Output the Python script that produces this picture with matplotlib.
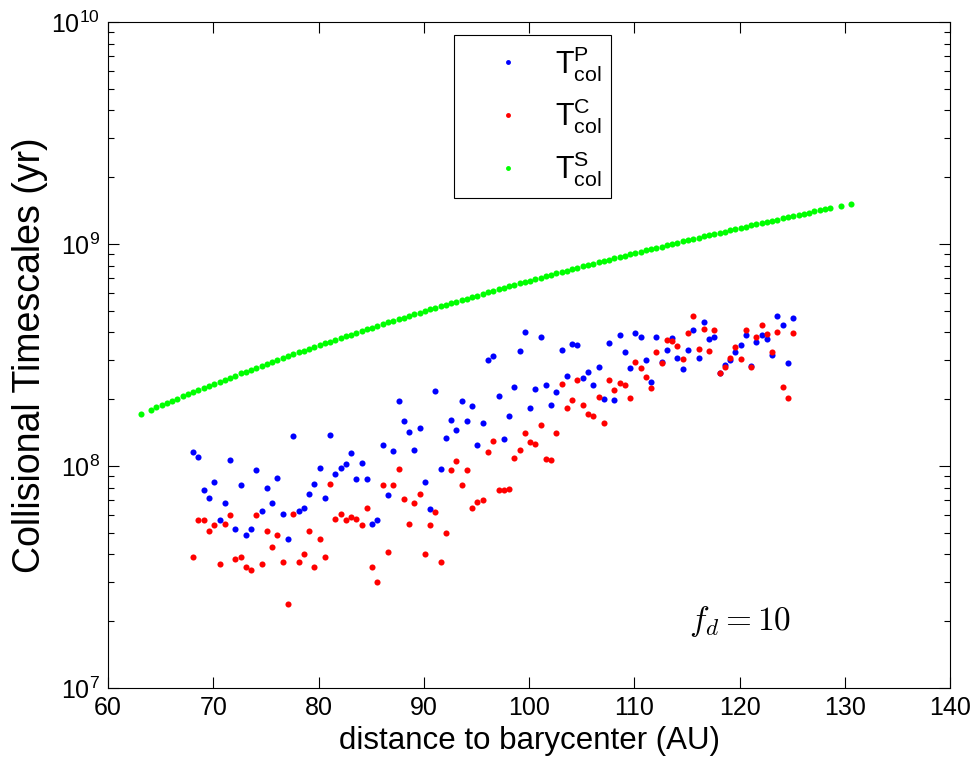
import numpy as np
import matplotlib
matplotlib.use('Agg')
import matplotlib.pyplot as plt

plt.rcParams['font.family'] = ['Liberation Sans', 'DejaVu Sans']
plt.rcParams['mathtext.fontset'] = 'custom'
plt.rcParams['mathtext.rm'] = 'Liberation Sans'
plt.rcParams['mathtext.it'] = 'Liberation Sans:italic'

# distance to barycenter (AU), shared by the P and C points
r_pc = [68.1, 68.6, 69.1, 69.6, 70.1, 70.6, 71.1, 71.6, 72.1, 72.6,
        73.1, 73.6, 74.1, 74.6, 75.1, 75.6, 76.1, 76.6, 77.1, 77.6,
        78.1, 78.6, 79.1, 79.6, 80.1, 80.6, 81.1, 81.6, 82.1, 82.6,
        83.1, 83.6, 84.1, 84.6, 85.1, 85.6, 86.1, 86.6, 87.1, 87.6,
        88.1, 88.6, 89.1, 89.6, 90.1, 90.6, 91.1, 91.6, 92.1, 92.6,
        93.1, 93.6, 94.1, 94.6, 95.1, 95.6, 96.1, 96.6, 97.1, 97.6,
        98.1, 98.6, 99.1, 99.6, 100.1, 100.6, 101.1, 101.6, 102.1, 102.6,
        103.1, 103.6, 104.1, 104.6, 105.1, 105.6, 106.1, 106.6, 107.1, 107.6,
        108.1, 108.6, 109.1, 109.6, 110.1, 110.6, 111.1, 111.6, 112.1, 112.6,
        113.1, 113.6, 114.1, 114.6, 115.1, 115.6, 116.1, 116.6, 117.1, 117.6,
        118.1, 118.6, 119.1, 119.6, 120.1, 120.6, 121.1, 121.6, 122.1, 122.6,
        123.1, 123.6, 124.1, 124.6, 125.1]

# T_col^P in units of 1e8 yr
t_p = [1.16, 1.10, 0.78, 0.72, 0.85, 0.57, 0.68, 1.06, 0.52, 0.82,
       0.49, 0.52, 0.96, 0.63, 0.80, 0.68, 0.88, 0.61, 0.47, 1.36,
       0.63, 0.65, 0.75, 0.83, 0.98, 0.72, 1.38, 0.92, 0.98, 1.02,
       1.14, 0.87, 1.03, 0.87, 0.55, 0.57, 1.24, 0.74, 1.17, 1.96,
       1.59, 1.42, 1.18, 1.49, 0.85, 0.64, 2.17, 0.97, 1.33, 1.61,
       1.46, 1.96, 1.60, 1.86, 1.24, 1.56, 3.00, 3.13, 2.07, 1.32,
       1.68, 2.27, 3.30, 4.01, 1.83, 2.22, 3.81, 2.32, 1.89, 2.15,
       3.33, 2.54, 3.56, 3.52, 2.50, 2.66, 2.32, 2.79, 2.00, 3.59,
       1.98, 3.90, 3.25, 2.76, 3.99, 3.81, 3.01, 2.38, 3.81, 2.93,
       3.34, 3.78, 3.07, 2.74, 3.34, 4.09, 3.07, 4.47, 3.73, 3.81,
       2.61, 2.84, 3.00, 3.26, 3.52, 3.88, 2.83, 3.63, 3.88, 3.73,
       3.16, 4.75, 4.32, 2.92, 4.64]

# T_col^C in units of 1e8 yr
t_c = [0.39, 0.57, 0.57, 0.51, 0.54, 0.36, 0.55, 0.60, 0.38, 0.39,
       0.35, 0.34, 0.60, 0.36, 0.51, 0.43, 0.49, 0.37, 0.24, 0.61,
       0.37, 0.40, 0.51, 0.35, 0.47, 0.39, 0.83, 0.58, 0.61, 0.57,
       0.59, 0.58, 0.54, 0.65, 0.35, 0.30, 0.82, 0.41, 0.82, 0.97,
       0.71, 0.55, 0.68, 0.75, 0.40, 0.54, 0.62, 0.37, 0.50, 0.96,
       1.05, 0.82, 0.96, 0.65, 0.69, 0.70, 1.16, 1.29, 0.78, 0.78,
       0.79, 1.09, 1.18, 1.41, 1.28, 1.25, 1.53, 1.08, 1.06, 1.41,
       2.33, 1.83, 1.99, 2.45, 1.88, 1.72, 1.68, 2.05, 1.57, 2.43,
       2.19, 2.37, 2.32, 2.02, 2.95, 2.76, 2.51, 2.25, 3.25, 2.91,
       3.71, 3.67, 3.48, 3.03, 3.96, 4.72, 3.38, 4.14, 3.31, 4.09,
       2.61, 2.78, 3.07, 3.45, 3.03, 4.10, 2.79, 3.80, 4.32, 3.93,
       3.27, 4.03, 2.28, 2.02, 3.99]

# distance grid for T_col^S
r_s = [63.1, 64.1, 64.6, 65.1, 65.6, 66.1, 66.6, 67.1, 67.6, 68.1, 68.6,
       69.1, 69.6, 70.1, 70.6, 71.1, 71.6, 72.1, 72.6, 73.1, 73.6,
       74.1, 74.6, 75.1, 75.6, 76.1, 76.6, 77.1, 77.6, 78.1, 78.6,
       79.1, 79.6, 80.1, 80.6, 81.1, 81.6, 82.1, 82.6, 83.1, 83.6,
       84.1, 84.6, 85.1, 85.6, 86.1, 86.6, 87.1, 87.6, 88.1, 88.6,
       89.1, 89.6, 90.1, 90.6, 91.1, 91.6, 92.1, 92.6, 93.1, 93.6,
       94.1, 94.6, 95.1, 95.6, 96.1, 96.6, 97.1, 97.6, 98.1, 98.6,
       99.1, 99.6, 100.1, 100.6, 101.1, 101.6, 102.1, 102.6, 103.1, 103.6,
       104.1, 104.6, 105.1, 105.6, 106.1, 106.6, 107.1, 107.6, 108.1, 108.6,
       109.1, 109.6, 110.1, 110.6, 111.1, 111.6, 112.1, 112.6, 113.1, 113.6,
       114.1, 114.6, 115.1, 115.6, 116.1, 116.6, 117.1, 117.6, 118.1, 118.6,
       119.1, 119.6, 120.1, 120.6, 121.1, 121.6, 122.1, 122.6, 123.1, 123.6,
       124.1, 124.6, 125.1, 125.6, 126.1, 126.6, 127.1, 127.6, 128.1, 128.6,
       129.6, 130.6]

# T_col^S in units of 1e8 yr
t_s = [1.71, 1.79, 1.84, 1.88, 1.92, 1.97, 2.01, 2.06, 2.10, 2.15, 2.20,
       2.25, 2.30, 2.35, 2.40, 2.45, 2.50, 2.55, 2.61, 2.66, 2.72,
       2.77, 2.83, 2.89, 2.94, 3.00, 3.06, 3.12, 3.18, 3.25, 3.31,
       3.37, 3.44, 3.50, 3.57, 3.63, 3.70, 3.77, 3.84, 3.91, 3.98,
       4.05, 4.13, 4.20, 4.28, 4.35, 4.43, 4.50, 4.58, 4.66, 4.74,
       4.82, 4.90, 4.99, 5.07, 5.15, 5.24, 5.33, 5.41, 5.50, 5.59,
       5.68, 5.77, 5.86, 5.96, 6.05, 6.15, 6.24, 6.34, 6.44, 6.54,
       6.64, 6.74, 6.84, 6.94, 7.05, 7.15, 7.26, 7.37, 7.47, 7.58,
       7.69, 7.81, 7.92, 8.03, 8.15, 8.26, 8.38, 8.50, 8.62, 8.74,
       8.86, 8.98, 9.10, 9.23, 9.35, 9.48, 9.61, 9.74, 9.87, 10.00,
       10.13, 10.27, 10.40, 10.54, 10.68, 10.81, 10.95, 11.10, 11.24, 11.38,
       11.52, 11.67, 11.82, 11.97, 12.12, 12.27, 12.42, 12.57, 12.73, 12.88,
       13.04, 13.20, 13.36, 13.52, 13.68, 13.84, 14.01, 14.18, 14.34, 14.51,
       14.85, 15.20]

fig = plt.figure(figsize=(9.77, 7.64), dpi=100)
ax = fig.add_axes([0.1105, 0.0995, 0.862, 0.8717])

ms = 4.4
ax.plot(r_pc, np.array(t_p) * 1e8, 'o', color='#0000ff', ms=ms, mec='none',
        label=r'$\mathregular{T^P_{col}}$')
ax.plot(r_pc, np.array(t_c) * 1e8, 'o', color='#ff0000', ms=ms, mec='none',
        label=r'$\mathregular{T^C_{col}}$')
ax.plot(r_s, np.array(t_s) * 1e8, 'o', color='#00ff00', ms=ms, mec='none',
        label=r'$\mathregular{T^S_{col}}$')

ax.set_yscale('log')
ax.set_xlim(60, 140)
ax.set_ylim(1e7, 1e10)
ax.set_xticks(range(60, 141, 10))

ax.tick_params(which='both', direction='in', top=True, right=True,
               labelsize=18, width=0.8)
ax.tick_params(which='major', length=8, pad=6)
ax.tick_params(which='minor', length=4)
for sp in ax.spines.values():
    sp.set_linewidth(0.8)

ax.set_xlabel('distance to barycenter (AU)', fontsize=22.5, labelpad=4)
ax.set_ylabel('Collisional Timescales (yr)', fontsize=27, labelpad=2)

ax.text(120, 2.0e7, r'$f_d = 10$', fontsize=24, ha='center', va='center',
        math_fontfamily='cm')

leg = ax.legend(loc='upper left', bbox_to_anchor=(0.411, 0.981),
                fontsize=22, fancybox=False, edgecolor='black',
                framealpha=1, borderpad=0.3, labelspacing=0.42,
                handletextpad=0.1, handlelength=2.9, markerscale=0.8,
                borderaxespad=0)
leg.get_frame().set_linewidth(0.8)

fig.savefig('out.png', dpi=100)
